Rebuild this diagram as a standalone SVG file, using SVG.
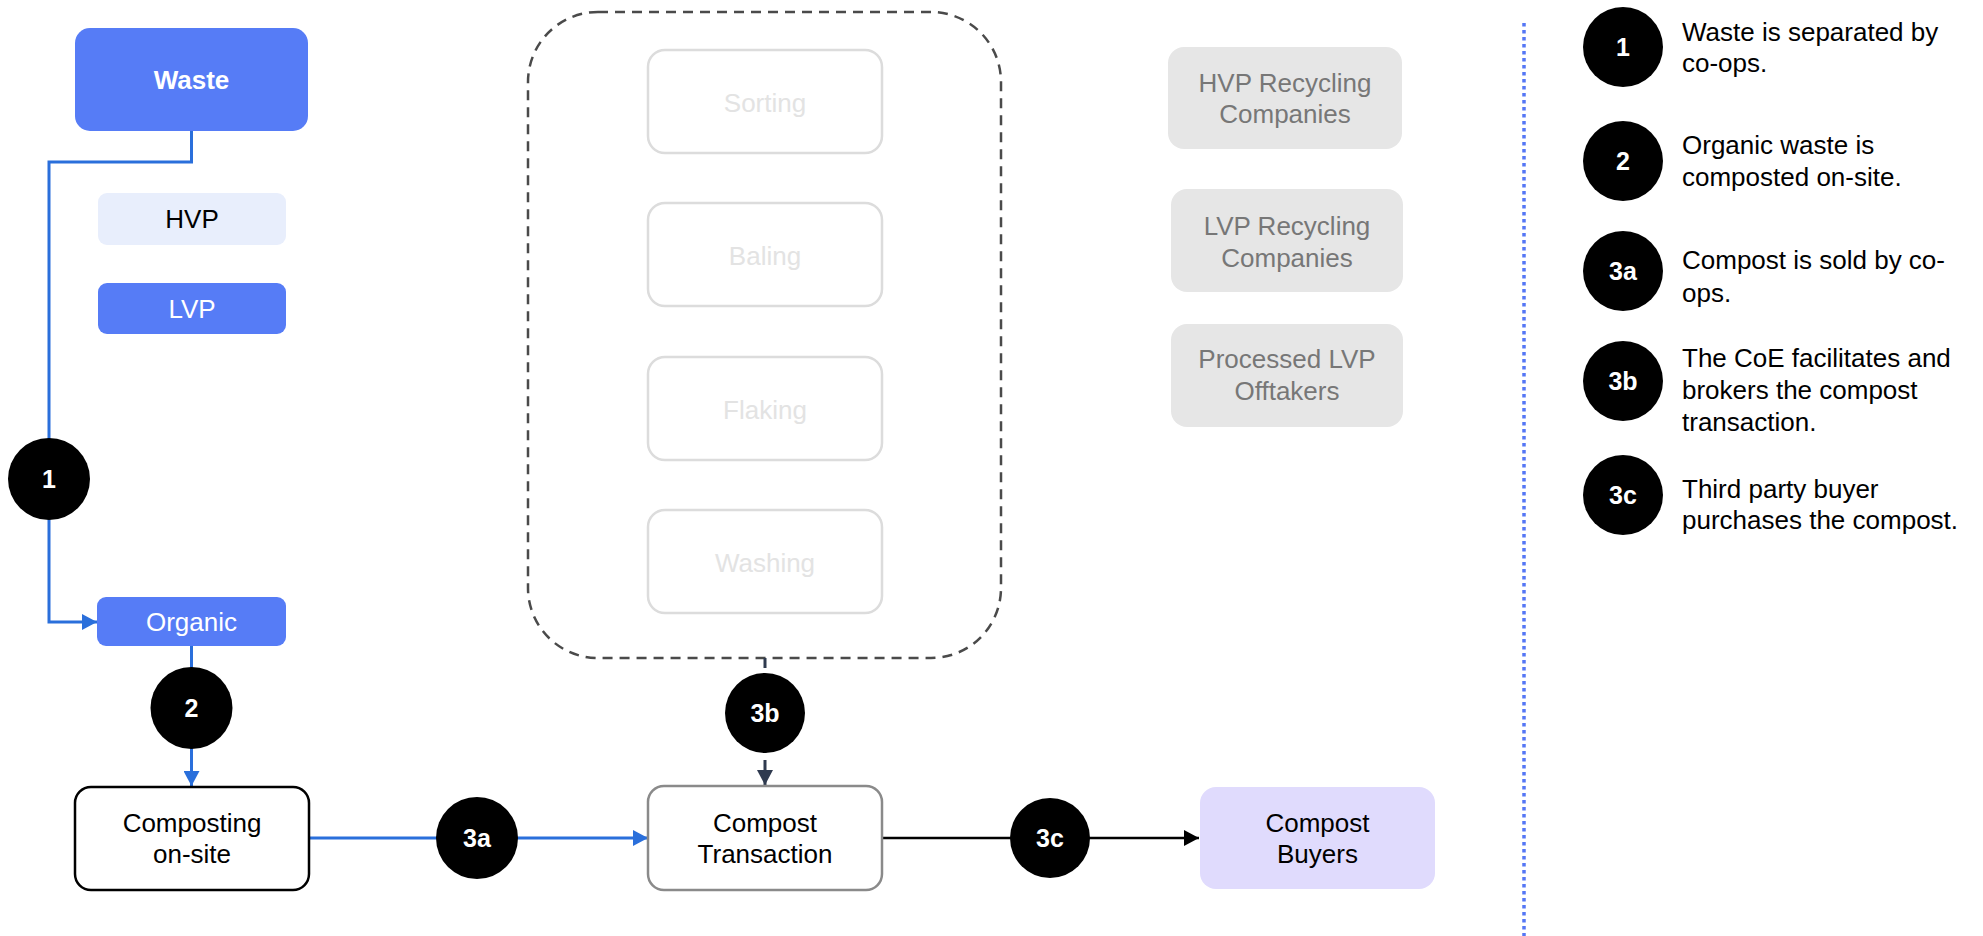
<svg xmlns="http://www.w3.org/2000/svg" width="1983" height="936" viewBox="0 0 1983 936">
<style>
text{font-family:"Liberation Sans",Arial,sans-serif;font-size:26px;text-anchor:middle}
.lbl{fill:#000}
.wht{fill:#fff}
.num{fill:#fff;font-weight:bold;font-size:25px}
.ghost{fill:#e3e3e3}
.gray{fill:#777}
.leg{text-anchor:start;fill:#000}
.blue{fill:#567cf6}
.proc{fill:#fff;stroke:#dcdcdc;stroke-width:2.5}
.grayb{fill:#e6e6e6}
.badge{fill:#000}
.cb{fill:none;stroke:#2a6fdb;stroke-width:3}
</style>
<defs>
<marker id="ab" markerUnits="userSpaceOnUse" markerWidth="16" markerHeight="16" refX="15" refY="8" orient="auto"><path d="M0,0 L15,8 L0,16 z" fill="#2a6fdb"/></marker>
<marker id="ak" markerUnits="userSpaceOnUse" markerWidth="16" markerHeight="16" refX="15" refY="8" orient="auto"><path d="M0,0 L15,8 L0,16 z" fill="#000"/></marker>
<marker id="ad" markerUnits="userSpaceOnUse" markerWidth="16" markerHeight="16" refX="15" refY="8" orient="auto"><path d="M0,0 L15,8 L0,16 z" fill="#2f3a4f"/></marker>
</defs>

<g id="container">
<rect x="528" y="12" width="473" height="646" rx="70" fill="none" stroke="#4a4a4a" stroke-width="2.5" stroke-dasharray="10 7"/>
</g>

<g id="connectors">
<path class="cb" d="M191.5,131 V162 H49 V622 H97" marker-end="url(#ab)"/>
<path class="cb" d="M191.5,646 V786" marker-end="url(#ab)"/>
<path class="cb" d="M309,838 H648" marker-end="url(#ab)"/>
<path d="M765,658 V785" fill="none" stroke="#2f3a4f" stroke-width="3" stroke-dasharray="10 7" marker-end="url(#ad)"/>
<path d="M882,838 H1199" fill="none" stroke="#000" stroke-width="2.5" marker-end="url(#ak)"/>
<line x1="1524" y1="23" x2="1524" y2="936" stroke="#5577f5" stroke-width="3.5" stroke-dasharray="3.5 3.5"/>
</g>

<g id="waste"><rect class="blue" x="75" y="28" width="233" height="103" rx="15"/><text class="wht" x="191.5" y="89" font-weight="bold">Waste</text></g>
<g id="hvp"><rect x="98" y="193" width="188" height="52" rx="9" fill="#e8eefc"/><text class="lbl" x="192" y="228">HVP</text></g>
<g id="lvp"><rect class="blue" x="98" y="283" width="188" height="51" rx="9"/><text class="wht" x="192" y="318">LVP</text></g>
<g id="organic"><rect class="blue" x="97" y="597" width="189" height="49" rx="9"/><text class="wht" x="191.5" y="631">Organic</text></g>
<g id="composting"><rect x="75" y="787" width="234" height="103" rx="16" fill="#fff" stroke="#000" stroke-width="2.5"/><text class="lbl" x="192" y="832">Composting</text><text class="lbl" x="192" y="863">on-site</text></g>

<g id="sorting"><rect class="proc" x="648" y="50" width="234" height="103" rx="17"/><text class="ghost" x="765" y="112">Sorting</text></g>
<g id="baling"><rect class="proc" x="648" y="203" width="234" height="103" rx="17"/><text class="ghost" x="765" y="265">Baling</text></g>
<g id="flaking"><rect class="proc" x="648" y="357" width="234" height="103" rx="17"/><text class="ghost" x="765" y="419">Flaking</text></g>
<g id="washing"><rect class="proc" x="648" y="510" width="234" height="103" rx="17"/><text class="ghost" x="765" y="572">Washing</text></g>

<g id="transaction"><rect x="648" y="786" width="234" height="104" rx="16" fill="#fff" stroke="#8a8a8a" stroke-width="2.5"/><text class="lbl" x="765" y="832">Compost</text><text class="lbl" x="765" y="863">Transaction</text></g>
<g id="buyers"><rect x="1200" y="787" width="235" height="102" rx="16" fill="#e0dbfd"/><text class="lbl" x="1317.5" y="832">Compost</text><text class="lbl" x="1317.5" y="863">Buyers</text></g>

<g id="hvp-recyclers"><rect class="grayb" x="1168" y="47" width="234" height="102" rx="16"/><text class="gray" x="1285" y="92">HVP Recycling</text><text class="gray" x="1285" y="123">Companies</text></g>
<g id="lvp-recyclers"><rect class="grayb" x="1171" y="189" width="232" height="103" rx="16"/><text class="gray" x="1287" y="235">LVP Recycling</text><text class="gray" x="1287" y="267">Companies</text></g>
<g id="offtakers"><rect class="grayb" x="1171" y="324" width="232" height="103" rx="16"/><text class="gray" x="1287" y="368">Processed LVP</text><text class="gray" x="1287" y="400">Offtakers</text></g>

<g id="step1"><circle class="badge" cx="49" cy="479" r="41"/><text class="num" x="49" y="488">1</text></g>
<g id="step2"><circle class="badge" cx="191.5" cy="708" r="41"/><text class="num" x="191.5" y="717">2</text></g>
<g id="step3a"><circle class="badge" cx="477" cy="838" r="41"/><text class="num" x="477" y="847">3a</text></g>
<g id="step3b"><circle class="badge" cx="765" cy="713" r="40"/><text class="num" x="765" y="722">3b</text></g>
<g id="step3c"><circle class="badge" cx="1050" cy="838" r="40"/><text class="num" x="1050" y="847">3c</text></g>

<g id="legend">
<g id="leg1"><circle class="badge" cx="1623" cy="47" r="40"/><text class="num" x="1623" y="56">1</text><text class="leg" x="1682" y="41">Waste is separated by</text><text class="leg" x="1682" y="72">co-ops.</text></g>
<g id="leg2"><circle class="badge" cx="1623" cy="161" r="40"/><text class="num" x="1623" y="170">2</text><text class="leg" x="1682" y="154">Organic waste is</text><text class="leg" x="1682" y="186">composted on-site.</text></g>
<g id="leg3a"><circle class="badge" cx="1623" cy="271" r="40"/><text class="num" x="1623" y="280">3a</text><text class="leg" x="1682" y="269">Compost is sold by co-</text><text class="leg" x="1682" y="302">ops.</text></g>
<g id="leg3b"><circle class="badge" cx="1623" cy="381" r="40"/><text class="num" x="1623" y="390">3b</text><text class="leg" x="1682" y="367">The CoE facilitates and</text><text class="leg" x="1682" y="399">brokers the compost</text><text class="leg" x="1682" y="431">transaction.</text></g>
<g id="leg3c"><circle class="badge" cx="1623" cy="495" r="40"/><text class="num" x="1623" y="504">3c</text><text class="leg" x="1682" y="498">Third party buyer</text><text class="leg" x="1682" y="529">purchases the compost.</text></g>
</g>
</svg>
